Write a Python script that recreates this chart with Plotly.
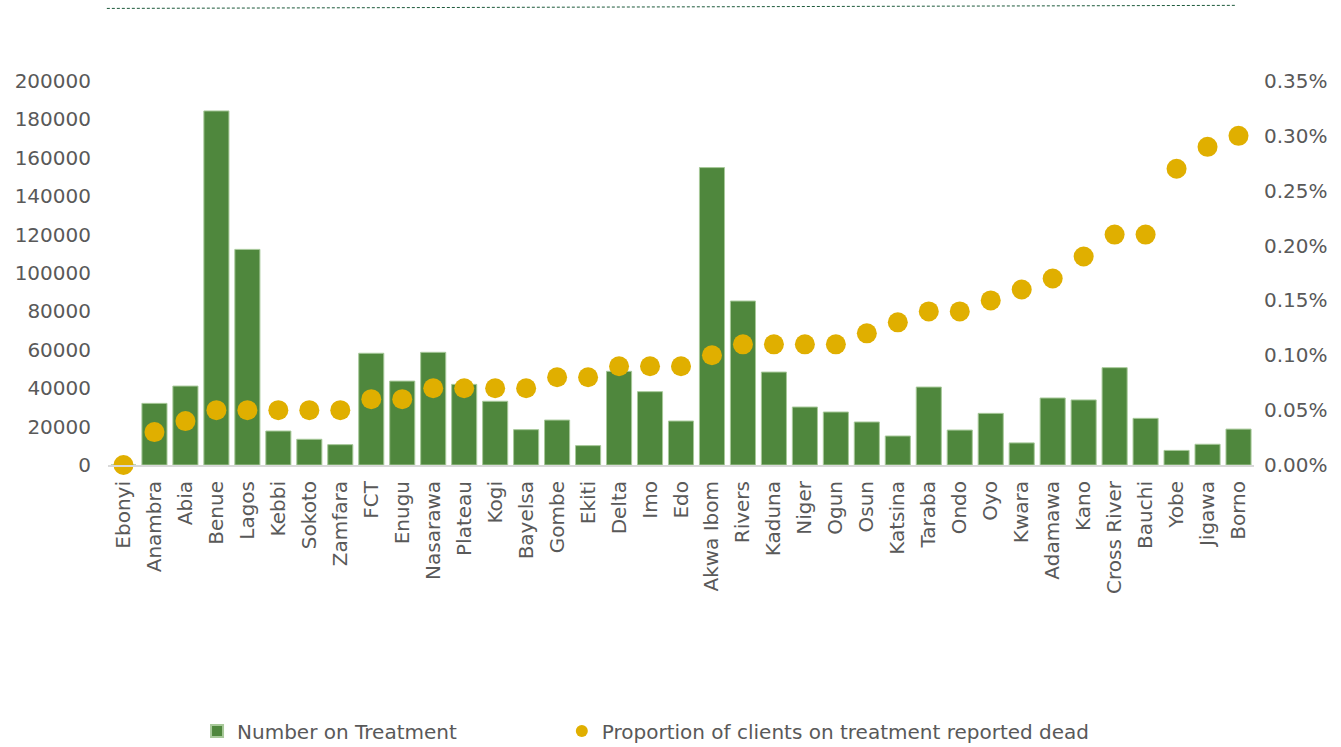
import plotly.graph_objects as go

states = ["Ebonyi", "Anambra", "Abia", "Benue", "Lagos", "Kebbi", "Sokoto", "Zamfara",
          "FCT", "Enugu", "Nasarawa", "Plateau", "Kogi", "Bayelsa", "Gombe", "Ekiti",
          "Delta", "Imo", "Edo", "Akwa Ibom", "Rivers", "Kaduna", "Niger", "Ogun",
          "Osun", "Katsina", "Taraba", "Ondo", "Oyo", "Kwara", "Adamawa", "Kano",
          "Cross River", "Bauchi", "Yobe", "Jigawa", "Borno"]

number_on_treatment = [0, 32100, 41100, 184400, 112300, 17700, 13400, 10600,
                       58200, 43700, 58700, 42000, 33200, 18400, 23400, 10100,
                       48800, 38200, 22900, 154900, 85400, 48400, 30200, 27600,
                       22400, 15100, 40600, 18200, 26900, 11500, 34900, 33900,
                       50700, 24300, 7600, 10800, 18700]

proportion_dead = [0.0000, 0.0003, 0.0004, 0.0005, 0.0005, 0.0005, 0.0005, 0.0005,
                   0.0006, 0.0006, 0.0007, 0.0007, 0.0007, 0.0007, 0.0008, 0.0008,
                   0.0009, 0.0009, 0.0009, 0.0010, 0.0011, 0.0011, 0.0011, 0.0011,
                   0.0012, 0.0013, 0.0014, 0.0014, 0.0015, 0.0016, 0.0017, 0.0019,
                   0.0021, 0.0021, 0.0027, 0.0029, 0.0030]

left_ticks = list(range(0, 200001, 20000))
right_ticks = [0.0, 0.0005, 0.0010, 0.0015, 0.0020, 0.0025, 0.0030, 0.0035]

FONT = "DejaVu Sans"
GREY = "#595959"
GREEN = "#4F873D"
GOLD = "#E0AF00"
FS = 20

fig = go.Figure()
fig.add_trace(go.Bar(
    x=states, y=number_on_treatment, name="Number on Treatment",
    marker=dict(color=GREEN, line=dict(color="#A8C99A", width=1)),
    yaxis="y", legend="legend",
))
fig.add_trace(go.Scatter(
    x=states, y=proportion_dead, name="Proportion of clients on treatment reported dead",
    mode="markers", marker=dict(color=GOLD, size=20, symbol="circle"),
    yaxis="y2", cliponaxis=False, legend="legend2",
))

legend_common = dict(orientation="h", yanchor="middle", y=-0.693, xanchor="left",
                     font=dict(family=FONT, size=FS, color=GREY),
                     itemsizing="constant", bgcolor="rgba(0,0,0,0)")

fig.update_layout(
    template="none",
    width=1341, height=747,
    margin=dict(l=108, r=87, t=81, b=282, autoexpand=False),
    paper_bgcolor="white", plot_bgcolor="white",
    font=dict(family=FONT, size=FS, color=GREY),
    bargap=0.19,
    showlegend=True,
    legend=dict(x=0.0777, **legend_common),
    legend2=dict(x=0.396, **legend_common),
    xaxis=dict(type="category", range=[-0.5, len(states) - 0.5],
               tickangle=-90, showgrid=False, showline=True, linecolor="#D9D9D9",
               linewidth=2, ticks="", automargin=False, ticklabelstandoff=6,
               tickfont=dict(family=FONT, size=FS, color=GREY)),
    yaxis=dict(range=[0, 200000], tickvals=left_ticks, tickformat="d",
               showgrid=False, zeroline=False, showline=False, ticks="",
               automargin=False, ticklabelstandoff=16,
               tickfont=dict(family=FONT, size=FS, color=GREY)),
    yaxis2=dict(range=[0, 0.0035], tickvals=right_ticks, tickformat=".2%",
                overlaying="y", side="right", showgrid=False, zeroline=False,
                showline=False, ticks="", automargin=False, ticklabelstandoff=9,
                tickfont=dict(family=FONT, size=FS, color=GREY)),
    shapes=[dict(type="line", xref="paper", yref="paper",
                 x0=-0.001, y0=1.189, x1=0.985, y1=1.197,
                 line=dict(color="#1E5A3C", width=1, dash="3px,2px"))],
)

fig.write_html("out.html")
